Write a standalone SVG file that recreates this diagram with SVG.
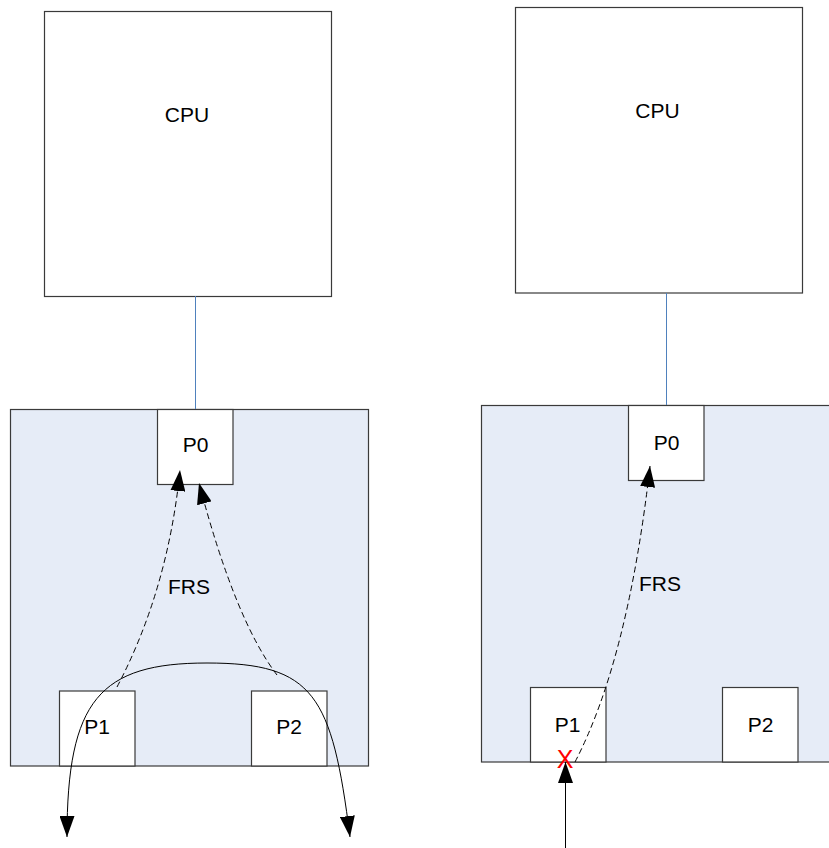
<svg xmlns="http://www.w3.org/2000/svg" width="829" height="848" viewBox="0 0 829 848">
<style>
.box{fill:#fff;stroke:#3a3a3a;stroke-width:1.2}
.panel{fill:#E6ECF7;stroke:#3a3a3a;stroke-width:1.2}
.lbl{font-family:"Liberation Sans",Arial,sans-serif;font-size:21px;fill:#000;text-anchor:middle}
.link{stroke:#4F81BD;stroke-width:1;fill:none}
.dash{stroke:#000;stroke-width:1;fill:none;stroke-dasharray:6,3.5}
.solid{stroke:#000;stroke-width:1;fill:none}
</style>
<defs>
<marker id="ah" markerUnits="userSpaceOnUse" markerWidth="21" markerHeight="15" refX="21" refY="7.5" orient="auto-start-reverse" viewBox="0 0 21 15">
<path d="M0,0 L21,7.5 L0,15 z" fill="#000" stroke="none"/>
</marker>
</defs>
<rect x="0" y="0" width="829" height="848" fill="#fff"/>
<g id="left-cpu"><rect class="box" x="44.5" y="11.5" width="287" height="285"/><text class="lbl" x="187" y="122">CPU</text></g>
<g id="left-switch"><rect class="panel" x="10.5" y="409.5" width="358" height="356.5"/></g>
<g id="left-p0"><rect class="box" x="157.5" y="409.5" width="75.5" height="75"/><text class="lbl" x="195.5" y="452">P0</text></g>
<g id="left-p1"><rect class="box" x="59.5" y="691" width="75.5" height="75"/><text class="lbl" x="97" y="734">P1</text></g>
<g id="left-p2"><rect class="box" x="251.5" y="691" width="75.5" height="75"/><text class="lbl" x="289" y="734">P2</text></g>
<g id="left-frs"><text class="lbl" x="189" y="594">FRS</text></g>
<g id="right-cpu"><rect class="box" x="515.5" y="7.5" width="287" height="285.5"/><text class="lbl" x="657.5" y="118">CPU</text></g>
<g id="right-switch"><rect class="panel" x="481.5" y="405.5" width="360" height="356.5"/></g>
<g id="right-p0"><rect class="box" x="628.5" y="405.5" width="75.5" height="75"/><text class="lbl" x="666.5" y="450">P0</text></g>
<g id="right-p1"><rect class="box" x="530.5" y="687.5" width="75.5" height="74.5"/><text class="lbl" x="567.5" y="732">P1</text></g>
<g id="right-p2"><rect class="box" x="722.5" y="687.5" width="75.5" height="74.5"/><text class="lbl" x="760.5" y="732">P2</text></g>
<g id="right-frs"><text class="lbl" x="660" y="591">FRS</text></g>
<g id="connectors">
<line class="link" x1="195.5" y1="296" x2="195.5" y2="409"/>
<line class="link" x1="666.5" y1="293" x2="666.5" y2="405"/>
<path class="dash" d="M117,687 Q168,590 180,470" marker-end="url(#ah)"/>
<path class="dash" d="M277,675 Q235,620 199,483" marker-end="url(#ah)"/>
<path class="solid" d="M67,837 C67,700 100,663 207,663 C314,663 332,695 350,837" marker-start="url(#ah)" marker-end="url(#ah)"/>
<path class="dash" d="M575,762 Q628,660 650,466" marker-end="url(#ah)"/>
<line class="solid" x1="565.5" y1="848" x2="565.5" y2="762" marker-end="url(#ah)"/>
</g>
<g id="fault-mark"><text x="565" y="768" font-family="Liberation Sans,Arial,sans-serif" font-size="25" fill="#FF0000" text-anchor="middle">X</text></g>
</svg>
